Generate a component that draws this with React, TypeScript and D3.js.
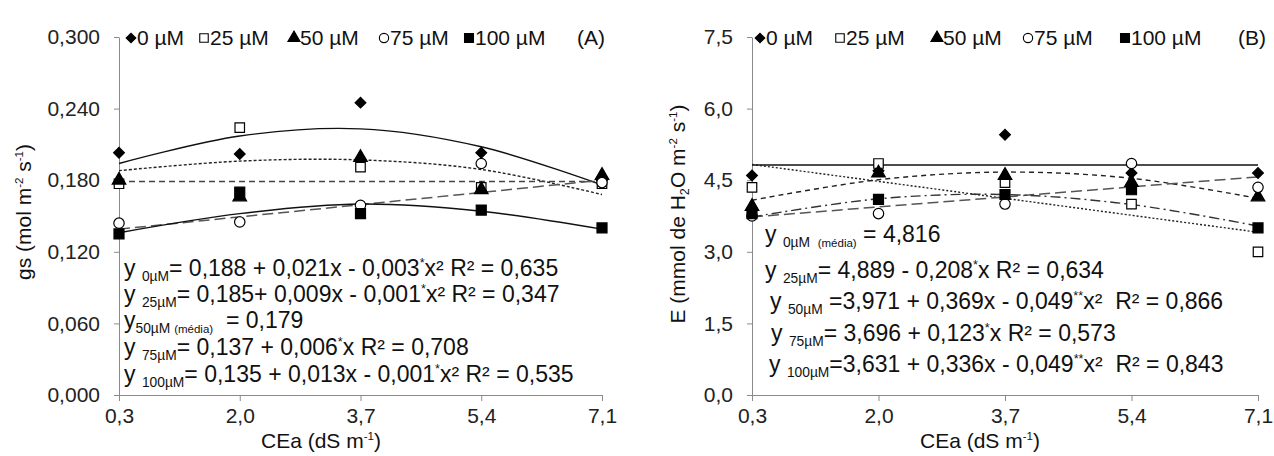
import React, { useRef, useEffect } from "react";
import * as d3 from "d3";

// salinity levels (CEa, dS m-1) and tick labels
const ceaLevels = [0.3, 2.0, 3.7, 5.4, 7.1];
const ceaTickLabels = ["0,3", "2,0", "3,7", "5,4", "7,1"];
const doseLabels = ["0 µM", "25 µM", "50 µM", "75 µM", "100 µM"];

// (A) stomatal conductance gs
const gs0 = [0.203, 0.202, 0.245, 0.203, 0.18];
const gs25 = [0.177, 0.224, 0.191, 0.174, 0.177];
const gs50 = [0.18, 0.166, 0.199, 0.172, 0.184];
const gs75 = [0.144, 0.145, 0.159, 0.194, 0.178];
const gs100 = [0.135, 0.17, 0.152, 0.155, 0.14];

// (A) fitted curves
const gsFit0 = [0.194, 0.217, 0.223, 0.208, 0.176];
const gsFit25 = [0.188, 0.196, 0.197, 0.189, 0.168];
const gsFit50 = [0.179, 0.179];
const gsFit75 = [0.139, 0.18];
const gsFit100 = [0.136, 0.152, 0.16, 0.154, 0.139];

// (B) transpiration E
const e0 = [4.6, 4.7, 5.45, 4.65, 4.65];
const e25 = [4.35, 4.85, 4.45, 4.0, 3.0];
const e50 = [3.95, 4.65, 4.6, 4.45, 4.15];
const e75 = [3.75, 3.8, 4.0, 4.85, 4.35];
const e100 = [3.8, 4.1, 4.2, 4.3, 3.5];

// (B) fitted curves
const eFit0 = [4.816, 4.816];
const eFit25 = [4.83, 3.41];
const eFit50 = [4.08, 4.51, 4.67, 4.54, 4.12];
const eFit75 = [3.73, 4.57];
const eFit100 = [3.73, 4.11, 4.2, 3.99, 3.54];

const gsTicks = [0, 0.06, 0.12, 0.18, 0.24, 0.3];
const eTicks = [0, 1.5, 3.0, 4.5, 6.0, 7.5];

// equations: [text, kind]  kind: n = normal, s = subscript, p = superscript, t = tiny subscript
const gsEquations = [
  [["y ", "n"], ["0µM", "s"], ["= 0,188 + 0,021x - 0,003", "n"], ["*", "p"], ["x² R² = 0,635", "n"]],
  [["y ", "n"], ["25µM", "s"], ["= 0,185+ 0,009x - 0,001", "n"], ["*", "p"], ["x² R² = 0,347", "n"]],
  [["y", "n"], ["50µM ", "s"], ["(média)", "t"], ["  = 0,179", "n"]],
  [["y ", "n"], ["75µM", "s"], ["= 0,137 + 0,006", "n"], ["*", "p"], ["x R² = 0,708", "n"]],
  [["y ", "n"], ["100µM", "s"], ["= 0,135 + 0,013x - 0,001", "n"], ["*", "p"], ["x² R² = 0,535", "n"]],
];
const eEquations = [
  [["y ", "n"], ["0µM  ", "s"], ["(média)", "t"], [" = 4,816", "n"]],
  [["y ", "n"], ["25µM", "s"], ["= 4,889 - 0,208", "n"], ["*", "p"], ["x R² = 0,634", "n"]],
  [["y ", "n"], ["50µM", "s"], [" =3,971 + 0,369x - 0,049", "n"], ["**", "p"], ["x²  R² = 0,866", "n"]],
  [["y ", "n"], ["75µM", "s"], ["= 3,696 + 0,123", "n"], ["*", "p"], ["x R² = 0,573", "n"]],
  [["y ", "n"], ["100µM", "s"], ["=3,631 + 0,336x - 0,049", "n"], ["**", "p"], ["x²  R² = 0,843", "n"]],
];

const FONT = "'Liberation Sans', Arial, sans-serif";
const AXIS_GREY = "#8a8a8a";

// diamond is a square turned 45 degrees
const symbolTypes = [d3.symbolSquare, d3.symbolSquare, d3.symbolTriangle, d3.symbolCircle, d3.symbolSquare];
const symbolTurn = [45, 0, 0, 0, 0];
const symbolFills = ["#000", "#fff", "#000", "#fff", "#000"];
const symbolSizes = [58, 90, 80, 85, 100];

function appendRich(text, segments) {
  segments.forEach(([str, kind]) => {
    const t = text.append("tspan").text(str);
    if (kind === "s") t.attr("font-size", "0.6em").attr("baseline-shift", "-0.35em");
    if (kind === "t") t.attr("font-size", "0.5em").attr("baseline-shift", "-0.45em");
    if (kind === "p") t.attr("font-size", "0.55em").attr("baseline-shift", "0.7em");
  });
}

function drawPanel(svg, cfg) {
  const x = d3.scaleLinear().domain([0.3, 7.1]).range([cfg.left, cfg.right]);
  const y = d3.scaleLinear().domain([0, cfg.yMax]).range([cfg.bottom, cfg.top]);

  const g = svg.append("g");

  // axes
  const yAxis = d3
    .axisLeft(y)
    .tickValues(cfg.yTicks)
    .tickSize(5)
    .tickSizeOuter(0)
    .tickPadding(14)
    .tickFormat(cfg.yFormat);
  const gy = g.append("g").attr("transform", `translate(${cfg.left},0)`).call(yAxis);

  const xAxis = d3
    .axisBottom(x)
    .tickValues(ceaLevels)
    .tickSize(6)
    .tickSizeOuter(0)
    .tickPadding(7)
    .tickFormat((d, i) => ceaTickLabels[i]);
  const gx = g.append("g").attr("transform", `translate(0,${cfg.bottom})`).call(xAxis);

  [gx, gy].forEach((a) => {
    a.attr("font-family", FONT).attr("font-size", 21);
    a.select(".domain").attr("stroke", AXIS_GREY);
    a.selectAll(".tick line").attr("stroke", AXIS_GREY);
    a.selectAll(".tick text").attr("fill", "#222");
  });

  // fitted lines
  cfg.fits.forEach((f) => {
    const xs = f.ys.length === 2 ? [0.3, 7.1] : ceaLevels;
    const line = d3
      .line()
      .x((d, i) => x(xs[i]))
      .y((d) => y(d))
      .curve(d3.curveCatmullRom);
    g.append("path")
      .datum(f.ys)
      .attr("d", line)
      .attr("fill", "none")
      .attr("stroke", f.color)
      .attr("stroke-width", f.width)
      .attr("stroke-dasharray", f.dash);
  });

  // points
  cfg.points.forEach((vals, s) => {
    const sym = d3.symbol().type(symbolTypes[s]).size(symbolSizes[s]);
    g.selectAll(null)
      .data(vals)
      .enter()
      .append("path")
      .attr("d", sym)
      .attr("transform", (d, i) => `translate(${x(ceaLevels[i])},${y(d)}) rotate(${symbolTurn[s]})`)
      .attr("fill", symbolFills[s])
      .attr("stroke", "#000")
      .attr("stroke-width", 1.2);
  });

  // legend
  const legY = cfg.top + 1;
  doseLabels.forEach((lab, s) => {
    const lx = cfg.legendX[s];
    const sym = d3.symbol().type(symbolTypes[s]).size(symbolSizes[s] * 0.8);
    g.append("path")
      .attr("d", sym)
      .attr("transform", `translate(${lx},${legY}) rotate(${symbolTurn[s]})`)
      .attr("fill", symbolFills[s])
      .attr("stroke", "#000")
      .attr("stroke-width", 1.1);
    g.append("text")
      .attr("x", lx + 6)
      .attr("y", legY)
      .attr("dy", "0.35em")
      .attr("font-family", FONT)
      .attr("font-size", 21)
      .attr("fill", "#111")
      .text(lab);
  });
  g.append("text")
    .attr("x", cfg.tagX)
    .attr("y", legY)
    .attr("dy", "0.35em")
    .attr("font-family", FONT)
    .attr("font-size", 21)
    .attr("fill", "#111")
    .text(cfg.tag);

  // equations
  cfg.equations.forEach((eq, i) => {
    const t = g
      .append("text")
      .attr("x", cfg.eqX[i])
      .attr("y", cfg.eqY[i])
      .attr("dy", "0.35em")
      .attr("font-family", FONT)
      .attr("font-size", 23)
      .attr("fill", "#111")
      .style("white-space", "pre");
    appendRich(t, eq);
  });

  // axis titles
  const xt = g
    .append("text")
    .attr("x", cfg.xTitleX)
    .attr("y", 441)
    .attr("dy", "0.35em")
    .attr("text-anchor", "middle")
    .attr("font-family", FONT)
    .attr("font-size", 21)
    .attr("fill", "#111");
  appendRich(xt, [["CEa (dS m", "n"], ["-1", "p"], [")", "n"]]);

  const yt = g
    .append("text")
    .attr("transform", `translate(${cfg.yTitleX},${cfg.yTitleY}) rotate(-90)`)
    .attr("text-anchor", "middle")
    .attr("dy", "0.35em")
    .attr("font-family", FONT)
    .attr("font-size", 21)
    .attr("fill", "#111")
    .style("white-space", "pre");
  appendRich(yt, cfg.yTitle);
}

const App = () => {
  const chartSvg = useRef(null);

  useEffect(() => {
    const svg = d3.select(chartSvg.current);
    svg.selectAll("*").remove(); //clear

    drawPanel(svg, {
      left: 119,
      right: 602,
      top: 37,
      bottom: 395,
      yMax: 0.3,
      yTicks: gsTicks,
      yFormat: (d) => d3.format(".3f")(d).replace(".", ","),
      points: [gs0, gs25, gs50, gs75, gs100],
      fits: [
        { ys: gsFit0, dash: null, color: "#111", width: 1.4 },
        { ys: gsFit25, dash: "3,2", color: "#222", width: 1.4 },
        { ys: gsFit50, dash: "6,4", color: "#444", width: 1.5 },
        { ys: gsFit75, dash: "11,5", color: "#555", width: 1.5 },
        { ys: gsFit100, dash: null, color: "#111", width: 1.4 },
      ],
      legendX: [131, 204, 294, 384, 469],
      tag: "(A)",
      tagX: 577,
      equations: gsEquations,
      eqX: [124, 124, 124, 124, 124],
      eqY: [268, 294, 320, 347, 374],
      xTitleX: 321,
      yTitle: [["gs (mol m", "n"], ["-2", "p"], [" s", "n"], ["-1", "p"], [")", "n"]],
      yTitleX: 24,
      yTitleY: 212,
    });

    drawPanel(svg, {
      left: 752,
      right: 1258,
      top: 37,
      bottom: 395,
      yMax: 7.5,
      yTicks: eTicks,
      yFormat: (d) => d3.format(".1f")(d).replace(".", ","),
      points: [e0, e25, e50, e75, e100],
      fits: [
        { ys: eFit0, dash: null, color: "#111", width: 1.5 },
        { ys: eFit25, dash: "2,2", color: "#222", width: 1.4 },
        { ys: eFit50, dash: "5,4", color: "#222", width: 1.4 },
        { ys: eFit75, dash: "11,5", color: "#555", width: 1.5 },
        { ys: eFit100, dash: "10,4,2,4", color: "#333", width: 1.4 },
      ],
      legendX: [760, 840, 937, 1028, 1125],
      tag: "(B)",
      tagX: 1238,
      equations: eEquations,
      eqX: [765, 765, 770, 771, 769],
      eqY: [234, 270, 301, 333, 364],
      xTitleX: 980,
      yTitle: [["E (mmol de H", "n"], ["2", "s"], ["O m", "n"], ["-2", "p"], [" s", "n"], ["-1", "p"], [")", "n"]],
      yTitleX: 678,
      yTitleY: 214,
    });
  }, []);

  return (
    <div>
      <svg
        ref={chartSvg}
        width={1274}
        height={456}
        style={{ position: "absolute", left: 0, top: 0, background: "#fff" }}
      ></svg>
    </div>
  );
};

export default App;
